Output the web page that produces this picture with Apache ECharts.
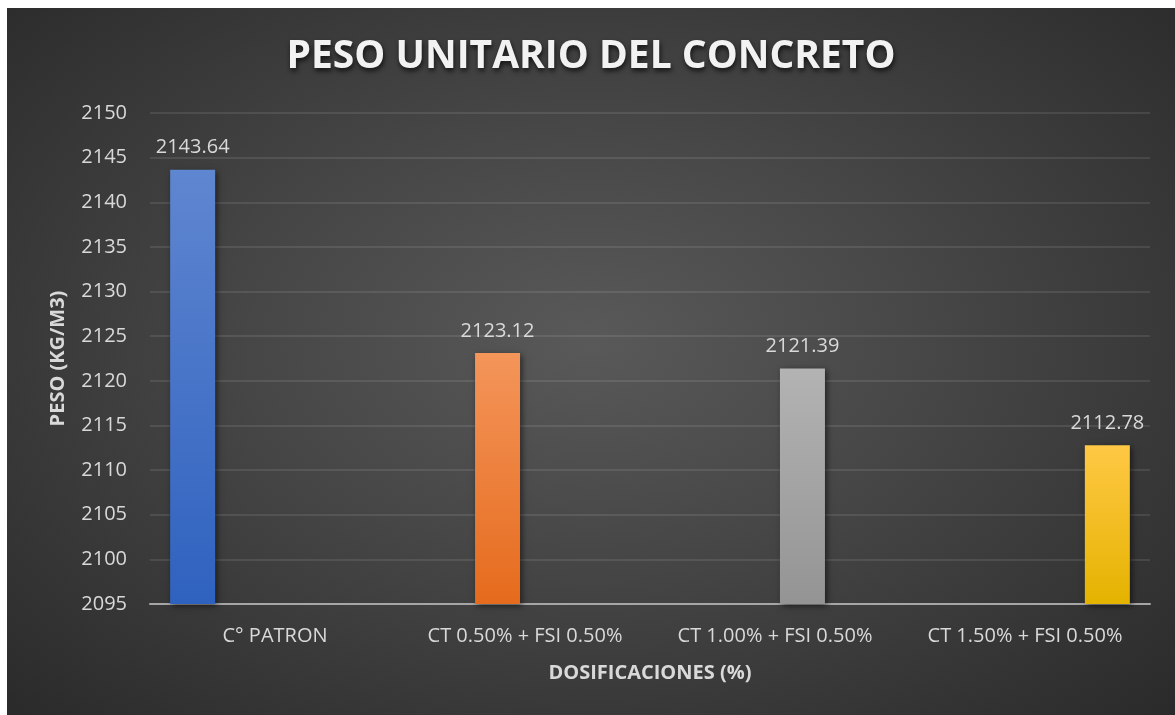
<!DOCTYPE html>
<html>
<head>
<meta charset="utf-8">
<script src="https://cdn.jsdelivr.net/npm/echarts@6/dist/echarts.min.js"></script>
<style>
  html, body { margin: 0; padding: 0; background: #ffffff; }
  #chart {
    position: absolute; left: 7px; top: 8px; width: 1168px; height: 707px;
    background: radial-gradient(ellipse at 50% 47%, #595959 0%, #474747 40%, #2a2a2a 100%);
  }
</style>
</head>
<body>
<div id="chart"></div>
<script>
  // data
  var categories = ['C° PATRON', 'CT 0.50% + FSI 0.50%', 'CT 1.00% + FSI 0.50%', 'CT 1.50% + FSI 0.50%'];
  var pesoValues = [2143.64, 2123.12, 2121.39, 2112.78];
  var yMin = 2095;
  var yMax = 2150;
  var yStep = 5;

  var barColors = [
    ['#5f86d0', '#2f62bf'],
    ['#f4955a', '#e56b1d'],
    ['#b3b3b3', '#949494'],
    ['#ffc845', '#e4b300']
  ];

  var labelColor = '#d9d9d9';
  var font = '"Open Sans", sans-serif';

  // one series per dosage, like the excel grouped bars
  var series = [];
  for (var i = 0; i < pesoValues.length; i++) {
    var d = [];
    for (var j = 0; j < categories.length; j++) {
      d.push(j === i ? pesoValues[i] : '-');
    }
    series.push({
      name: categories[i],
      type: 'bar',
      data: d,
      barWidth: 45,
      barGap: '22%',
      itemStyle: {
        color: new echarts.graphic.LinearGradient(0, 0, 0, 1, [
          {offset: 0, color: barColors[i][0]},
          {offset: 1, color: barColors[i][1]}
        ]),
        shadowBlur: 6,
        shadowColor: 'rgba(0,0,0,0.55)',
        shadowOffsetX: 2,
        shadowOffsetY: 2
      },
      label: {
        show: true,
        position: 'top',
        distance: 12,
        color: labelColor,
        fontFamily: font,
        fontSize: 20,
        formatter: function (p) { return p.value.toFixed(2); }
      }
    });
  }

  var myChart = echarts.init(document.getElementById('chart'));
  var option = {
    backgroundColor: 'transparent',
    animation: false,
    title: {
      text: 'PESO UNITARIO DEL CONCRETO',
      left: 'center',
      top: 24,
      textStyle: {
        color: '#f2f2f2',
        fontFamily: font,
        fontWeight: 'bold',
        fontSize: 39,
        textShadowColor: 'rgba(0,0,0,0.7)',
        textShadowBlur: 5,
        textShadowOffsetX: 1,
        textShadowOffsetY: 3
      }
    },
    grid: {
      left: 143,
      right: 25,
      top: 105,
      bottom: 111
    },
    xAxis: {
      type: 'category',
      data: categories,
      name: 'DOSIFICACIONES (%)',
      nameLocation: 'middle',
      nameGap: 59,
      nameTextStyle: {
        color: labelColor,
        fontFamily: font,
        fontWeight: 'bold',
        fontSize: 20
      },
      axisLine: { lineStyle: { color: '#a6a6a6', width: 2 } },
      axisTick: { show: false },
      axisLabel: {
        interval: 0,
        color: labelColor,
        fontFamily: font,
        fontSize: 20,
        margin: 22
      }
    },
    yAxis: {
      type: 'value',
      min: yMin,
      max: yMax,
      interval: yStep,
      name: 'PESO (KG/M3)',
      nameLocation: 'middle',
      nameGap: 82,
      nameTextStyle: {
        color: labelColor,
        fontFamily: font,
        fontWeight: 'bold',
        fontSize: 20
      },
      axisLine: { show: false },
      axisTick: { show: false },
      axisLabel: {
        color: labelColor,
        fontFamily: font,
        fontSize: 20,
        margin: 23,
        formatter: function (v) { return String(v); }
      },
      splitLine: { lineStyle: { color: 'rgba(255,255,255,0.13)', width: 1.5 } }
    },
    series: series
  };
  option && myChart.setOption(option);
</script>
</body>
</html>
